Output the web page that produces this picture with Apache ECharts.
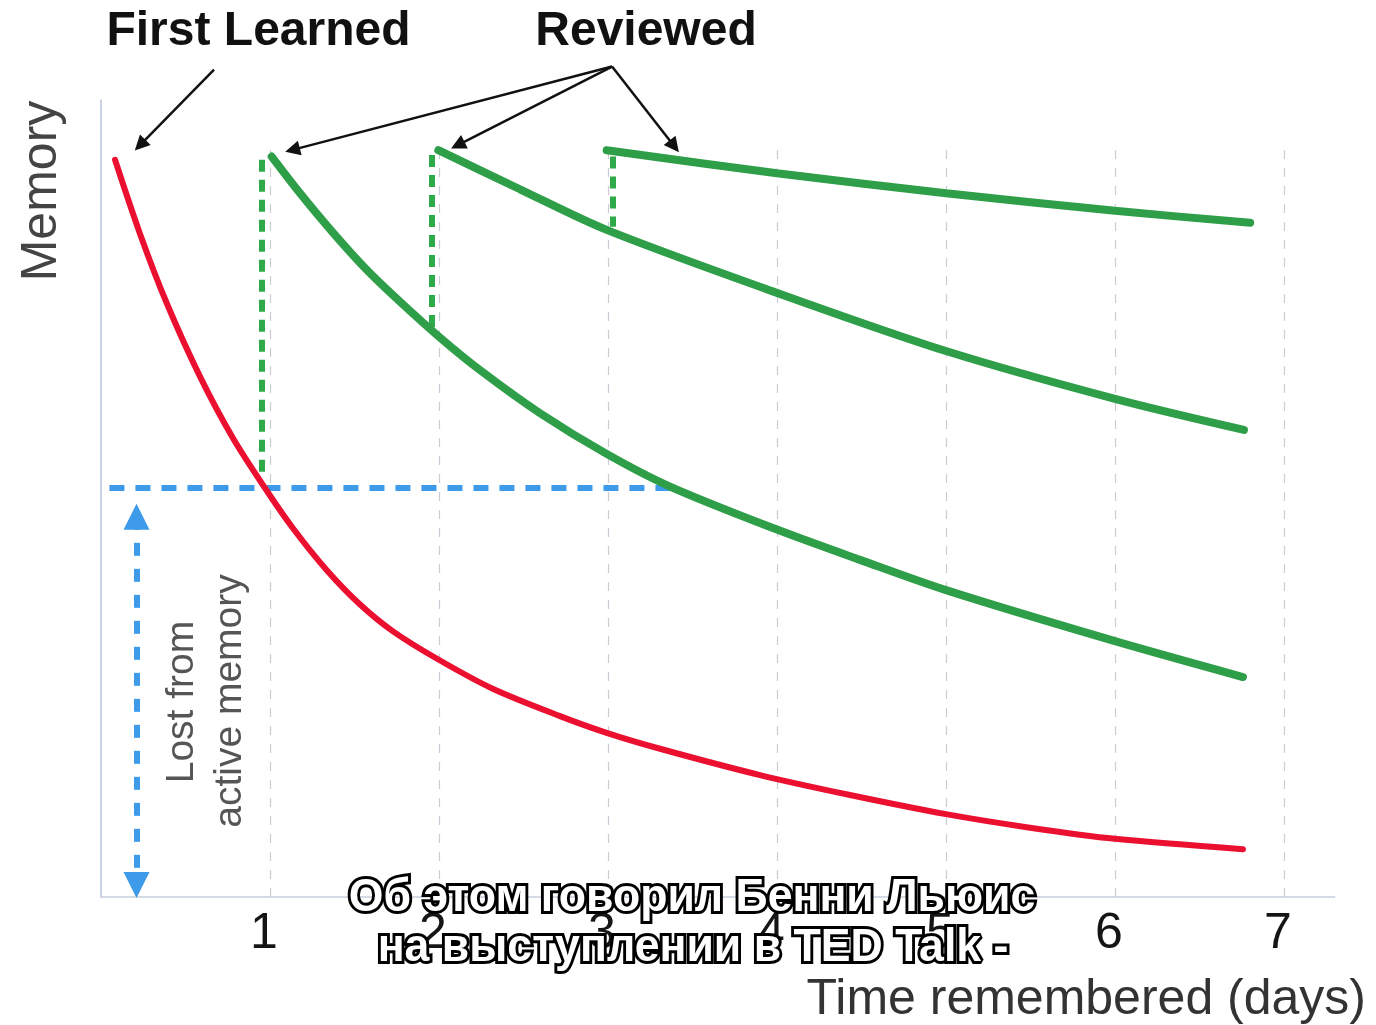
<!DOCTYPE html>
<html><head><meta charset="utf-8">
<script src="https://cdn.jsdelivr.net/npm/echarts@6/dist/echarts.min.js"></script>
<style>html,body{margin:0;padding:0;background:#fff}#c{width:1376px;height:1025px}</style>
</head><body><div id="c"></div>
<script>
// ---- data (x = days, y = memory %) ----
const xTickLabels = ['1','2','3','4','5','6','7'];
const gridDays = [1,2,3,4,5,6,7];
const firstLearned = [[0.083,92.5],[0.231,83.2],[0.391,74.4],[0.586,65.3],[0.783,57.5],[0.98,51.0],[1.138,46.2],[1.336,41.0],[1.533,36.7],[1.73,33.3],[1.996,29.8],[2.321,26.1],[2.716,22.7],[2.992,20.6],[3.308,18.6],[3.899,15.3],[4.432,12.8],[5.0,10.4],[5.497,8.7],[6.0,7.3],[6.757,6.0]];
const review1 = [[1.01,92.9],[1.178,88.3],[1.375,83.3],[1.572,78.7],[1.769,74.7],[2.0,70.3],[2.243,66.1],[2.598,60.7],[2.992,55.6],[3.367,51.5],[4.0,46.1],[4.491,42.3],[5.0,38.5],[6.0,32.1],[6.757,27.6]];
const review2 = [[1.996,93.7],[2.479,88.8],[2.992,83.7],[4.0,75.8],[5.0,68.5],[6.0,62.5],[6.763,58.6]];
const review3 = [[2.992,93.7],[4.0,90.8],[5.0,88.3],[6.0,86.1],[6.8,84.6]];
const reviewDrops = [[[0.95,92.5],[0.95,53.2]],[[1.96,93.1],[1.96,70.8]],[[3.03,92.9],[3.03,84.1]]];
const threshold = [[0.05,51.3],[3.37,51.3]];
const lostArrow = [[0.21,47.7],[0.21,1.5]];
const firstArrow = [[[0.669,103.8],[0.231,94.35]]];
const reviewArrows = [[[3.024,104.2],[1.133,93.74]],[[3.024,104.2],[2.111,94.33]],[[3.024,104.2],[3.392,94.19]]];

const RED = '#ec1030', GREEN = '#2e9e48', GREEN_D = '#2eaa4a', BLUE = '#3d9be9';
const FONT = '"Liberation Sans", Arial, Helvetica, sans-serif';

const chart = echarts.init(document.getElementById('c'));
const curve = (name, data, color, width) => ({
  type:'line', name, data, smooth:0.3, showSymbol:false, symbol:'none',
  lineStyle:{color, width, cap:'round'}, z:5, silent:true, animation:false
});
const seg = (coordsList, color, width, type, extra) => Object.assign({
  type:'lines', coordinateSystem:'cartesian2d', clip:false, silent:true, animation:false,
  data: coordsList.map(c => ({coords:c})),
  lineStyle:{color, width, type, opacity:1}
}, extra||{});

chart.setOption({
  animation:false,
  backgroundColor:'#fff',
  grid:{left:101, right:41.3, top:100, bottom:128},
  xAxis:{type:'value', min:0, max:7.3, interval:1,
    axisLine:{show:true, lineStyle:{color:'#c6d0dc', width:1.5}},
    axisTick:{show:false}, splitLine:{show:false},
    axisLabel:{margin:12, fontSize:50, fontFamily:FONT, color:'#151515', padding:[0,12,0,0],
      formatter:v => { const i = gridDays.indexOf(v); return i>=0 ? xTickLabels[i] : ''; }}
  },
  yAxis:{type:'value', min:0, max:100, axisLabel:{show:false}, axisTick:{show:false}, splitLine:{show:false},
    axisLine:{show:true, lineStyle:{color:'#b4c4da', width:1.5}}},
  series:[
    seg(gridDays.map(d => [[d,0],[d,94.6]]), '#c9ccd4', 1.2, [9,9], {z:1}),
    seg([threshold], BLUE, 6, [15,11], {z:2}),
    seg(reviewDrops, GREEN_D, 6, [12,8], {z:3}),
    seg([lostArrow], BLUE, 6, [13,13], {z:3, symbol:['triangle','triangle'], symbolSize:26}),
    curve('First learned', firstLearned, RED, 6),
    curve('Review 1', review1, GREEN, 8),
    curve('Review 2', review2, GREEN, 8),
    curve('Review 3', review3, GREEN, 8),
    seg(firstArrow.concat(reviewArrows), '#111', 2.5, 'solid', {z:6, symbol:['none','triangle'], symbolSize:15})
  ],
  graphic:[
    {type:'text', x:258.5, y:32, style:{text:'First Learned', font:'bold 48px '+FONT, fill:'#111', align:'center', verticalAlign:'middle'}},
    {type:'text', x:646, y:32, style:{text:'Reviewed', font:'bold 48px '+FONT, fill:'#111', align:'center', verticalAlign:'middle'}},
    {type:'text', x:42, y:191, rotation:Math.PI/2, style:{text:'Memory', font:'50px '+FONT, fill:'#444', align:'center', verticalAlign:'middle'}},
    {type:'text', x:182, y:702, rotation:Math.PI/2, style:{text:'Lost from', font:'39px '+FONT, fill:'#555', align:'center', verticalAlign:'middle'}},
    {type:'text', x:230, y:701, rotation:Math.PI/2, style:{text:'active memory', font:'39px '+FONT, fill:'#555', align:'center', verticalAlign:'middle'}},
    {type:'text', x:1366, y:1000, style:{text:'Time remembered (days)', font:'50px '+FONT, fill:'#333', align:'right', verticalAlign:'middle'}},
    {type:'text', x:692, y:898, scaleX:0.97, z:100, style:{text:'Об этом говорил Бенни Льюис', font:'bold 46px '+FONT, fill:'#fff', stroke:'#000', lineWidth:6, align:'center', verticalAlign:'middle'}},
    {type:'text', x:693, y:948, scaleX:0.97, z:100, style:{text:'на выступлении в TED Talk -', font:'bold 46px '+FONT, fill:'#fff', stroke:'#000', lineWidth:6, align:'center', verticalAlign:'middle'}}
  ]
});
</script></body></html>
